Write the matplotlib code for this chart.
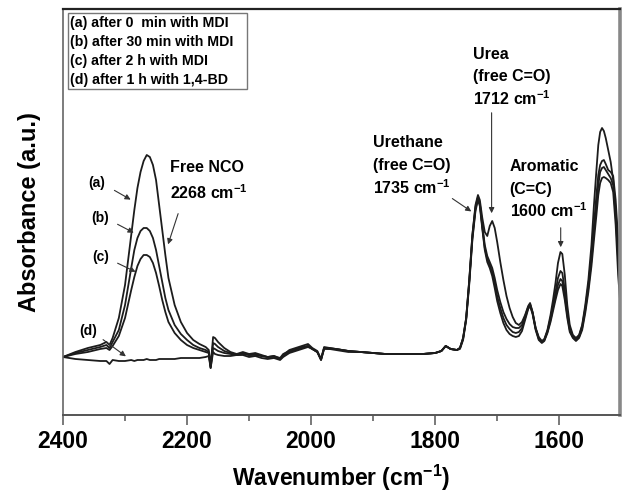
import matplotlib
matplotlib.use("Agg")
import matplotlib.pyplot as plt
from matplotlib.patches import Rectangle

plt.rcParams['font.family'] = ['Liberation Sans', 'DejaVu Sans']
plt.rcParams['mathtext.fontset'] = 'custom'
plt.rcParams['mathtext.rm'] = 'Liberation Sans'
plt.rcParams['mathtext.bf'] = 'Liberation Sans:bold'

# wavenumber grid (cm-1)
wn = [2400, 2380, 2360, 2340, 2330, 2325, 2320, 2310, 2300, 2290, 2285, 2280,
      2275, 2270, 2265, 2260, 2255, 2250, 2245, 2240, 2235, 2230, 2220, 2210,
      2200, 2190, 2180, 2170, 2165, 2162, 2158, 2155, 2150, 2140, 2130, 2120,
      2110, 2100, 2090, 2080, 2070, 2060, 2050, 2045, 2035, 2025, 2015, 2005,
      1998, 1990, 1984, 1979, 1970, 1960, 1940, 1920, 1900, 1880, 1860, 1840,
      1820, 1800, 1790, 1783, 1775, 1765, 1760,
      1755, 1750, 1745, 1740, 1735, 1731, 1728, 1724, 1720, 1716, 1712, 1708,
      1704, 1700, 1695, 1690, 1685, 1680, 1675, 1670, 1665, 1660, 1655, 1650,
      1647, 1643, 1638, 1633, 1628, 1624, 1619, 1614, 1610, 1606, 1602, 1598,
      1595, 1591, 1587, 1583, 1578, 1573, 1568, 1563, 1558, 1553, 1548, 1544,
      1540, 1537, 1534, 1531, 1528, 1525, 1521, 1517, 1513, 1509, 1505, 1502]

# absorbance (a.u.)
abs_a = [58, 63, 67, 70, 73, 70, 77, 97, 130, 180, 205, 227,
         243, 254, 260, 258, 250, 235, 210, 185, 160, 137, 110, 93,
         82, 75, 71, 68, 65, 49, 78, 77, 73, 67, 63, 61,
         63, 61, 62, 60, 58, 59, 56, 60, 65, 67, 69, 71,
         67, 64, 56, 68, 67, 66, 64, 63, 62, 61, 61, 61,
         61, 62, 64, 69, 66, 65, 67,
         77, 97, 135, 180, 208, 218, 212, 190, 170, 159, 153, 147,
         137, 125, 113, 103, 96, 91, 88, 87, 87, 90, 99, 108,
         111, 103, 87, 77, 73, 75, 84, 97, 110, 123, 137, 144,
         142, 125, 103, 87, 79, 76, 79, 89, 107, 130, 160, 190,
         220, 240, 250, 254, 255, 251, 245, 243, 239, 215, 175, 150]

abs_b = [58, 62, 65, 68, 70, 67, 73, 85, 110, 147, 165, 177,
         184, 187, 187, 184, 177, 165, 149, 133, 117, 105, 90, 81,
         75, 70, 67, 65, 63, 48, 72, 71, 68, 64, 62, 60,
         62, 60, 61, 59, 58, 59, 57, 61, 64, 66, 68, 69,
         66, 63, 55, 67, 67, 66, 64, 63, 62, 61, 61, 61,
         61, 62, 64, 69, 66, 65, 67,
         76, 96, 133, 177, 206, 217, 211, 188, 167, 156, 150, 143,
         132, 119, 107, 97, 90, 86, 83, 82, 83, 87, 97, 107,
         110, 102, 86, 76, 73, 75, 83, 95, 107, 118, 130, 136,
         134, 120, 100, 85, 78, 75, 78, 87, 105, 127, 155, 183,
         210, 230, 243, 247, 248, 245, 241, 237, 230, 200, 155, 130]

abs_c = [58, 61, 63, 66, 67, 65, 69, 79, 97, 125, 138, 149,
         156, 160, 160, 158, 152, 142, 129, 115, 103, 93, 82, 75,
         70, 67, 65, 63, 62, 47, 67, 66, 64, 62, 61, 60,
         61, 60, 60, 59, 58, 58, 56, 59, 63, 65, 67, 69,
         66, 63, 56, 67, 66, 66, 64, 63, 62, 61, 61, 61,
         61, 62, 64, 69, 66, 65, 66,
         75, 95, 131, 175, 204, 215, 209, 186, 165, 153, 147, 139,
         127, 114, 102, 92, 85, 81, 79, 78, 79, 84, 95, 106,
         109, 101, 85, 75, 72, 74, 82, 93, 104, 115, 125, 131,
         129, 115, 97, 83, 77, 74, 77, 85, 102, 123, 149, 175,
         200, 220, 232, 237, 238, 237, 235, 232, 223, 190, 140, 115]

abs_d = [58, 56, 55, 54, 54, 51, 55, 54, 54, 55, 54, 55,
         55, 55, 56, 55, 55, 55, 56, 56, 56, 56, 56, 57,
         57, 57, 57, 58, 59, 47, 63, 61, 60, 59, 59, 60,
         60, 58, 59, 57, 56, 57, 55, 58, 62, 64, 66, 68,
         66, 63, 55, 66, 66, 65, 63, 63, 62, 61, 61, 61,
         61, 62, 64, 69, 66, 65, 67,
         77, 97, 135, 180, 210, 220, 215, 197, 183, 179, 189, 194,
         187, 173, 153, 135, 119, 107, 98, 92, 90, 93, 100, 109,
         112, 103, 87, 78, 74, 76, 85, 100, 115, 132, 152, 163,
         161, 140, 110, 90, 80, 77, 80, 90, 110, 135, 170, 210,
         245, 270, 283, 287, 284, 277, 265, 253, 235, 205, 165, 140]

legend_lines = ["(a) after 0  min with MDI", "(b) after 30 min with MDI",
                "(c) after 2 h with MDI", "(d) after 1 h with 1,4-BD"]

fig = plt.figure(figsize=(6.26, 4.96), dpi=100)
ax = fig.add_axes([63/626, 81/496, 557/626, 406/496])

for ys in [abs_a, abs_b, abs_c, abs_d]:
    ax.plot(wn, ys, color='#1c1c1c', lw=1.3)

ax.set_xlim(2400, 1502)
ax.set_ylim(0, 406)
ax.set_yticks([])
ax.set_xticks([2400, 2200, 2000, 1800, 1600])
ax.set_xticks([2300, 2100, 1900, 1700], minor=True)
ax.tick_params(axis='x', which='major', direction='out', length=7, width=1.1,
               color='#555', pad=4)
ax.tick_params(axis='x', which='minor', direction='out', length=4, width=1.1,
               color='#555')
for lab in ax.get_xticklabels():
    lab.set_fontsize(16.5)
    lab.set_fontweight('bold')

ax.spines['left'].set_color('#666')
ax.spines['left'].set_linewidth(1.2)
ax.spines['bottom'].set_color('#555')
ax.spines['bottom'].set_linewidth(1.4)
ax.spines['top'].set_color('#222')
ax.spines['top'].set_linewidth(1.6)
ax.spines['right'].set_color('#888')
ax.spines['right'].set_linewidth(2.6)

ax.set_xlabel(r'Wavenumber (cm$^{\mathbf{-1}}$)', fontsize=16.5, fontweight='bold', labelpad=7)
ax.set_ylabel('Absorbance (a.u.)', fontsize=17, fontweight='bold', labelpad=16)

# legend box
ax.add_patch(Rectangle((0.009, 0.803), 0.321, 0.187, transform=ax.transAxes,
                       fill=False, edgecolor='#777', lw=1.0))
for i, t in enumerate(legend_lines):
    ax.text(0.013, 0.965 - i*0.0465, t, transform=ax.transAxes, fontsize=10.2,
            fontweight='bold', ha='left', va='center')

bold = dict(fontsize=11.5, fontweight='bold', ha='left', va='center')
arr = dict(arrowstyle='-|>', color='#333', lw=0.8, mutation_scale=8)

ax.text(2228, 247, 'Free NCO', **bold)
ax.text(2228, 222, r'2268 cm$^{\mathbf{-1}}$', **bold)
ax.annotate('', xy=(2232, 168), xytext=(2213, 204), arrowprops=arr)

lab = dict(fontsize=10, fontweight='bold', ha='center', va='center')
ax.text(2345, 232, '(a)', **lab)
ax.annotate('', xy=(2287, 214), xytext=(2321, 226), arrowprops=arr)
ax.text(2340, 197, '(b)', **lab)
ax.annotate('', xy=(2282, 181), xytext=(2316, 192), arrowprops=arr)
ax.text(2340, 158, '(c)', **lab)
ax.annotate('', xy=(2279, 142), xytext=(2316, 153), arrowprops=arr)
ax.text(2360, 84, '(d)', **lab)
ax.annotate('', xy=(2295, 57), xytext=(2339, 77), arrowprops=arr)

ax.text(1900, 272, 'Urethane', **bold)
ax.text(1900, 249, '(free C=O)', **bold)
ax.text(1900, 227, r'1735 cm$^{\mathbf{-1}}$', **bold)
ax.annotate('', xy=(1738, 202), xytext=(1776, 218), arrowprops=arr)

ax.text(1739, 360, 'Urea', **bold)
ax.text(1739, 338, '(free C=O)', **bold)
ax.text(1739, 316, r'1712 cm$^{\mathbf{-1}}$', **bold)
ax.annotate('', xy=(1709, 199), xytext=(1709, 305), arrowprops=arr)

ax.text(1680, 248, 'Aromatic', **bold)
ax.text(1680, 225, '(C=C)', **bold)
ax.text(1680, 204, r'1600 cm$^{\mathbf{-1}}$', **bold)
ax.annotate('', xy=(1597.6, 165), xytext=(1597.6, 190), arrowprops=arr)

fig.savefig('out.png', dpi=100)
